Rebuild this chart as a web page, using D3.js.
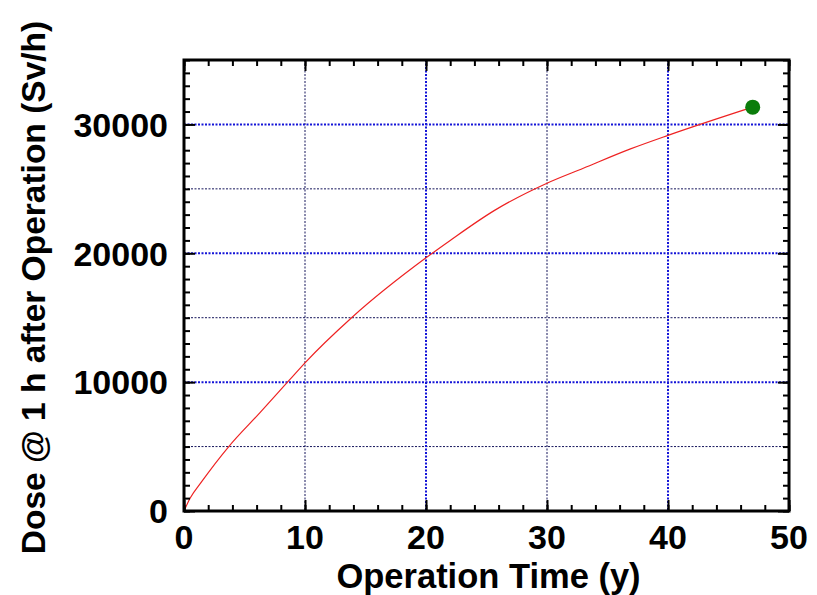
<!DOCTYPE html>
<html>
<head>
<meta charset="utf-8">
<script src="https://cdn.jsdelivr.net/npm/d3@7"></script>
<style>
  body { margin: 0; background: #fff; }
  svg text { font-family: "Liberation Sans", Arial, Helvetica, sans-serif; font-weight: bold; fill: #000; }
</style>
</head>
<body>
<svg id="chart"></svg>
<script>
// operation time (y) vs dose 1 h after operation (Sv/h)
const years = [0, 0.5, 1.46, 3.7, 6.3, 8.7, 10, 13.85, 20, 22, 25.7, 30, 33, 36.9, 40, 47];
const doses = [0, 990, 2275, 5000, 7650, 10150, 11500, 15000, 19650, 21000, 23350, 25440, 26600, 28100, 29150, 31340];
// end point marker
const endYear = 47;
const endDose = 31340;

const xTicks = [0, 10, 20, 30, 40, 50];
const yTicks = [0, 10000, 20000, 30000];
const xGridMinor = [10, 30];
const xGridMajor = [20, 40];
const yGridMinor = [5000, 15000, 25000];
const yGridMajor = [10000, 20000, 30000];

const svg_width = 817, svg_height = 595;
const margin = {top: 60, right: 28, bottom: 84, left: 184},
      width = svg_width - margin.left - margin.right,
      height = svg_height - margin.top - margin.bottom;

const svg = d3.select("#chart")
  .attr("width", svg_width)
  .attr("height", svg_height);

const chart = svg.append("g")
  .attr("transform", "translate(" + margin.left + "," + margin.top + ")");

let xScale = d3.scaleLinear().domain([0, 50]).range([0, width]);
let yScale = d3.scaleLinear().domain([0, 35000]).range([height, 0]);

// grid lines, thin dark ones first
chart.append("g").selectAll("line")
  .data(xGridMinor).enter().append("line")
    .attr("x1", d => xScale(d)).attr("x2", d => xScale(d))
    .attr("y1", 0).attr("y2", height)
    .style("stroke", "#14145a").style("stroke-width", 1).style("stroke-dasharray", "2,1.5");
chart.append("g").selectAll("line")
  .data(yGridMinor).enter().append("line")
    .attr("y1", d => yScale(d)).attr("y2", d => yScale(d))
    .attr("x1", 0).attr("x2", width)
    .style("stroke", "#14145a").style("stroke-width", 1).style("stroke-dasharray", "2,1.5");
chart.append("g").selectAll("line")
  .data(xGridMajor).enter().append("line")
    .attr("x1", d => xScale(d)).attr("x2", d => xScale(d))
    .attr("y1", 0).attr("y2", height)
    .style("stroke", "#1414d8").style("stroke-width", 2).style("stroke-dasharray", "2,1.5");
chart.append("g").selectAll("line")
  .data(yGridMajor).enter().append("line")
    .attr("y1", d => yScale(d)).attr("y2", d => yScale(d))
    .attr("x1", 0).attr("x2", width)
    .style("stroke", "#1414d8").style("stroke-width", 2).style("stroke-dasharray", "2,1.5");

// the curve
const line = d3.line()
  .x((d, i) => xScale(years[i]))
  .y(d => yScale(d))
  .curve(d3.curveMonotoneX);
chart.append("path")
  .datum(doses)
  .attr("d", line)
  .style("fill", "none")
  .style("stroke", "#ee2222")
  .style("stroke-width", 1.2);

chart.append("circle")
  .attr("cx", xScale(endYear))
  .attr("cy", yScale(endDose))
  .attr("r", 7.5)
  .style("fill", "#0b7d0b");

// ticks on all four sides, pointing in
const minorX = d3.range(0, 51, 2), minorY = d3.range(0, 35001, 1000);
function tickStyle(g) {
  g.select(".domain").remove();
  g.selectAll("line").style("stroke", "#000").style("stroke-width", 2);
  g.selectAll("text").remove();
}
chart.append("g").attr("transform", `translate(0,${height})`)
  .call(d3.axisBottom(xScale).tickValues(minorX).tickSize(-6)).call(tickStyle);
chart.append("g").attr("transform", `translate(0,${height})`)
  .call(d3.axisBottom(xScale).tickValues(xTicks).tickSize(-11)).call(tickStyle);
chart.append("g")
  .call(d3.axisTop(xScale).tickValues(minorX).tickSize(-6)).call(tickStyle);
chart.append("g")
  .call(d3.axisTop(xScale).tickValues(xTicks).tickSize(-11)).call(tickStyle);
chart.append("g")
  .call(d3.axisLeft(yScale).tickValues(minorY).tickSize(-6)).call(tickStyle);
chart.append("g")
  .call(d3.axisLeft(yScale).tickValues(yTicks).tickSize(-11)).call(tickStyle);
chart.append("g").attr("transform", `translate(${width},0)`)
  .call(d3.axisRight(yScale).tickValues(minorY).tickSize(-6)).call(tickStyle);
chart.append("g").attr("transform", `translate(${width},0)`)
  .call(d3.axisRight(yScale).tickValues(yTicks).tickSize(-11)).call(tickStyle);

// frame
chart.append("rect")
  .attr("x", 0).attr("y", 0)
  .attr("width", width).attr("height", height)
  .style("fill", "none").style("stroke", "#000").style("stroke-width", 3);

// tick labels
chart.append("g").selectAll("text")
  .data(xTicks).enter().append("text")
    .attr("x", d => xScale(d))
    .attr("y", height + 38)
    .style("text-anchor", "middle")
    .style("font-size", "34px")
    .text(d => d);
chart.append("g").selectAll("text")
  .data(yTicks).enter().append("text")
    .attr("x", -16)
    .attr("y", d => yScale(d))
    .attr("dy", "0.36em")
    .style("text-anchor", "end")
    .style("font-size", "34px")
    .text(d => d);

// axis titles
chart.append("text")
  .attr("transform", `translate(${width / 2 + 2}, ${height + 77})`)
  .style("text-anchor", "middle")
  .style("font-size", "34.5px")
  .text("Operation Time (y)");
chart.append("text")
  .attr("transform", `translate(-139, ${height / 2 + 2}) rotate(-90)`)
  .style("text-anchor", "middle")
  .style("font-size", "33.5px")
  .text("Dose @ 1 h after Operation (Sv/h)");
</script>
</body>
</html>
